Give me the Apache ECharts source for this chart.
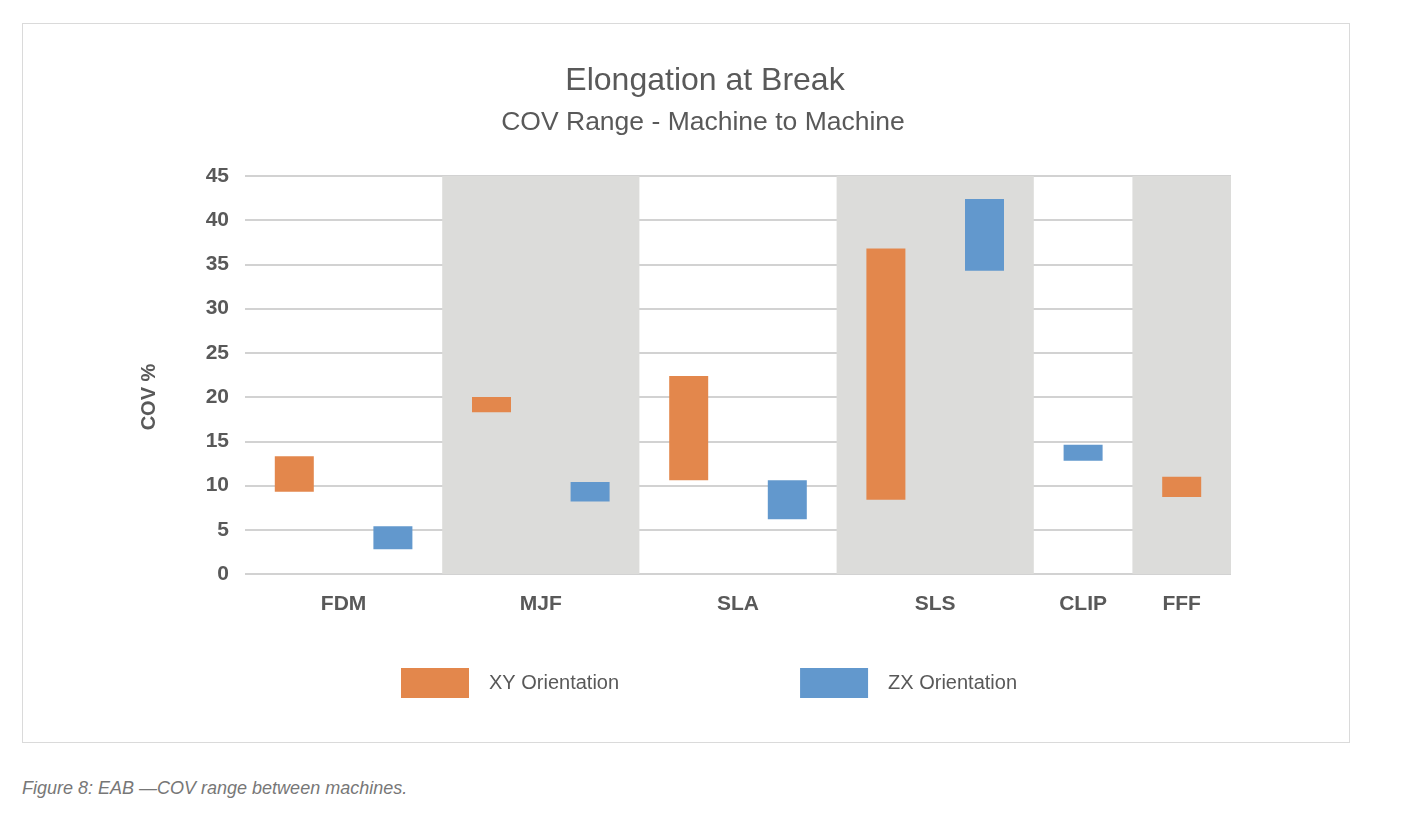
<!DOCTYPE html>
<html>
<head>
<meta charset="utf-8">
<script src="https://cdn.jsdelivr.net/npm/echarts@6/dist/echarts.min.js"></script>
<style>
  html, body { margin: 0; padding: 0; background: #fff; }
  #box { position: absolute; left: 22px; top: 23px; width: 1326px; height: 718px; border: 1px solid #dadada; }
  #chart { width: 100%; height: 100%; }
  #caption { position: absolute; left: 22px; top: 778px; font: italic 18px "Liberation Sans", Arial, sans-serif; color: #777; }
</style>
</head>
<body>
<div id="box"><div id="chart"></div></div>
<div id="caption">Figure 8: EAB —COV range between machines.</div>
<script>
// machine groups, how many bar slots each one takes, and which get the grey band
var groups = ['FDM', 'MJF', 'SLA', 'SLS', 'CLIP', 'FFF'];
var groupSlots = [2, 2, 2, 2, 1, 1];
var groupShaded = [false, true, false, true, false, true];

// one slot per bar
var slots = ['FDM XY', 'FDM ZX', 'MJF XY', 'MJF ZX', 'SLA XY', 'SLA ZX', 'SLS XY', 'SLS ZX', 'CLIP ZX', 'FFF XY'];
var slotOrientation = ['XY', 'ZX', 'XY', 'ZX', 'XY', 'ZX', 'XY', 'ZX', 'ZX', 'XY'];
var covLow = [9.3, 2.8, 18.3, 8.2, 10.6, 6.2, 8.4, 34.3, 12.8, 8.7];
var covHigh = [13.3, 5.4, 20.0, 10.4, 22.4, 10.6, 36.8, 42.4, 14.6, 11.0];

var yMin = 0, yMax = 45, yStep = 5;

var textColor = '#595959';
var fontFamily = '"Liberation Sans", Arial, sans-serif';

// group label sits in the middle of its slots
var groupCenters = [];
var bandColors = [];
var pos = 0;
for (var i = 0; i < groups.length; i++) {
    groupCenters.push(pos + groupSlots[i] / 2);
    for (var k = 0; k < groupSlots[i]; k++) {
        bandColors.push(groupShaded[i] ? '#dcdcda' : 'rgba(255,255,255,0)');
    }
    pos += groupSlots[i];
}

function rangeFor(orient) {
    return slots.map(function (s, idx) {
        return slotOrientation[idx] === orient ? +(covHigh[idx] - covLow[idx]).toFixed(2) : '-';
    });
}

var chart = echarts.init(document.getElementById('chart'));
chart.setOption({
    animation: false,
    textStyle: { fontFamily: fontFamily },
    title: [{
        text: 'Elongation at Break',
        left: 677,
        top: 36,
        textAlign: 'center',
        textStyle: { fontSize: 32, fontWeight: 'normal', color: textColor, fontFamily: fontFamily }
    }, {
        text: 'COV Range - Machine to Machine',
        left: 675,
        top: 80,
        textAlign: 'center',
        textStyle: { fontSize: 26.5, fontWeight: 'normal', color: textColor, fontFamily: fontFamily }
    }],
    legend: {
        data: ['XY Orientation', 'ZX Orientation'],
        left: 373,
        top: 639,
        icon: 'rect',
        itemWidth: 68,
        itemHeight: 30,
        itemGap: 181,
        textStyle: { fontSize: 20, color: textColor, padding: [0, 0, 0, 15] }
    },
    grid: { left: 222, right: 118, top: 152, bottom: 168 },
    xAxis: [{
        type: 'category',
        data: slots,
        axisLabel: { show: false },
        axisTick: { show: false },
        axisLine: { show: false },
        splitArea: { show: true, interval: 0, areaStyle: { color: bandColors } }
    }, {
        type: 'value',
        min: 0,
        max: slots.length,
        position: 'bottom',
        axisLine: { show: false },
        axisTick: { show: false },
        splitLine: { show: false },
        axisLabel: {
            customValues: groupCenters,
            margin: 20,
            fontSize: 21,
            fontWeight: 'bold',
            color: textColor,
            formatter: function (v) {
                for (var j = 0; j < groupCenters.length; j++) {
                    if (Math.abs(groupCenters[j] - v) < 1e-6) return groups[j];
                }
                return '';
            }
        }
    }],
    yAxis: {
        type: 'value',
        min: yMin,
        max: yMax,
        interval: yStep,
        name: 'COV %',
        nameLocation: 'middle',
        nameRotate: 90,
        nameGap: 86,
        nameTextStyle: { fontSize: 20, fontWeight: 'bold', color: textColor, padding: [0, 44, 0, 0] },
        axisLine: { show: false },
        axisTick: { show: false },
        axisLabel: { fontSize: 21, fontWeight: 'bold', color: textColor, margin: 16 },
        splitLine: { lineStyle: { color: '#d2d2d2', width: 2 } }
    },
    series: [{
        name: 'base',
        type: 'bar',
        stack: 'cov',
        barWidth: 39,
        silent: true,
        itemStyle: { color: 'rgba(0,0,0,0)' },
        data: covLow
    }, {
        name: 'XY Orientation',
        type: 'bar',
        stack: 'cov',
        barWidth: 39,
        itemStyle: { color: '#e3874c' },
        data: rangeFor('XY')
    }, {
        name: 'ZX Orientation',
        type: 'bar',
        stack: 'cov',
        barWidth: 39,
        itemStyle: { color: '#6298cd' },
        data: rangeFor('ZX')
    }]
});
</script>
</body>
</html>
